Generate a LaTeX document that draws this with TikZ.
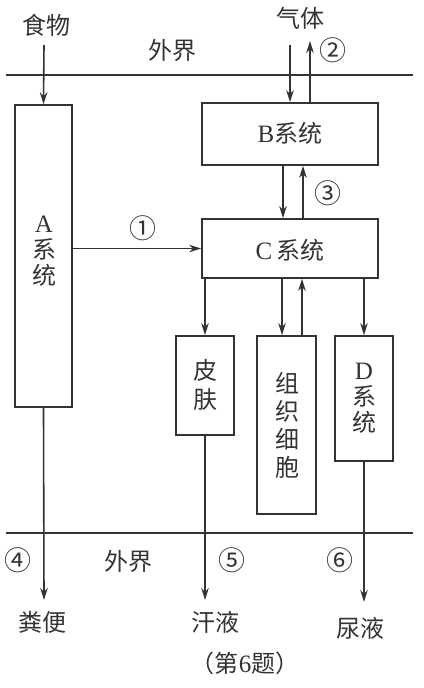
\documentclass[tikz,border=0pt]{standalone}
\usepackage{fontspec}
\setmainfont{Liberation Serif}
\newfontfamily\cjk{Noto Sans CJK SC}
\usetikzlibrary{arrows.meta}
\begin{document}
\begin{tikzpicture}[x=1pt,y=-1pt,
  box/.style={draw=black!80,line width=1.7pt,inner sep=0pt},
  lbl/.style={font=\fontsize{24}{26}\selectfont\cjk,text=black!80,inner sep=0pt},
  num/.style={font=\fontsize{27}{28}\selectfont\cjk,text=black!80,inner sep=0pt},
  arr/.style={draw=black!80,line width=1.6pt,-{Stealth[length=12pt,width=7.5pt]}},
  ln/.style={draw=black!80,line width=1.6pt}]
\useasboundingbox (0,0) rectangle (423,688);
% boundary lines
\coordinate (tl) at (6,75); \coordinate (tr) at (413,75);
\coordinate (bl) at (6,533); \coordinate (br) at (413,533);
\draw[ln] (tl) -- (tr);
\draw[ln] (bl) -- (br);
% boxes
\node[box,minimum width=57pt,minimum height=302pt] (A) at (43.5,256) {};
\node[lbl,align=center] at (44,251) {{\fontsize{25}{26}\selectfont\rmfamily A}\\[0pt]系\\[0pt]统};
\node[box,minimum width=176pt,minimum height=62pt] (B) at (290,134) {};
\node[lbl] at (290,133) {{\fontsize{25}{26}\selectfont\rmfamily B}系统};
\node[box,minimum width=176pt,minimum height=59pt] (C) at (290,248.5) {};
\node[lbl] at (290,250) {{\fontsize{25}{26}\selectfont\rmfamily C}\,系统};
\node[box,minimum width=58pt,minimum height=99pt] (S) at (205,385.5) {};
\node[lbl,align=center] at (205,385) {皮\\[3pt]肤};
\node[box,minimum width=59pt,minimum height=178pt] (T) at (286.5,425) {};
\node[lbl,align=center] at (287,425) {组\\[2pt]织\\[2pt]细\\[2pt]胞};
\node[box,minimum width=58pt,minimum height=125pt] (D) at (364,398.5) {};
\node[lbl,align=center] at (364,398) {{\fontsize{25}{26}\selectfont\rmfamily D}\\[0pt]系\\[0pt]统};
% texts
\node[lbl] (food) at (46,25) {食物};
\node[lbl] (gas) at (300,18) {气体};
\node[lbl] (w1) at (172,50) {外界};
\node[lbl] (w2) at (128,561) {外界};
\node[lbl] (feces) at (42,622) {粪便};
\node[lbl] (sweat) at (215,622) {汗液};
\node[lbl] (urine) at (360,628) {尿液};
\node[lbl] (cap) at (245,663) {（第{\fontsize{25}{26}\selectfont\rmfamily 6}题）};
\node[num] at (333,50) {②};
\node[num] at (143,228) {①};
\node[num] at (328,193) {③};
\node[num] at (18,560) {④};
\node[num] at (232,560) {⑤};
\node[num] at (340,560) {⑥};
% connectors
\coordinate (f0) at (44,45);
\draw[arr] (f0) -- (A.north);
\coordinate (g0) at (290,45);
\draw[arr] (g0) -- (B.north -| g0);
\coordinate (g1) at (310,41);
\draw[arr] (B.north -| g1) -- (g1);
\draw[arr] (B.south -| 283,0) -- (C.north -| 283,0);
\draw[arr] (C.north -| 303,0) -- (B.south -| 303,0);
\draw[arr] (A.east |- C.west) -- (C.west);
\draw[arr] (C.south -| S.north) -- (S.north);
\draw[arr] (C.south -| 282,0) -- (T.north -| 282,0);
\draw[arr] (T.north -| 302,0) -- (C.south -| 302,0);
\draw[arr] (C.south -| D.north) -- (D.north);
\coordinate (o1) at (44,600);
\coordinate (o2) at (205,600);
\coordinate (o3) at (364,602);
\draw[arr] (A.south) -- (o1);
\draw[arr] (S.south) -- (o2);
\draw[arr] (D.south) -- (o3);
\end{tikzpicture}
\end{document}
